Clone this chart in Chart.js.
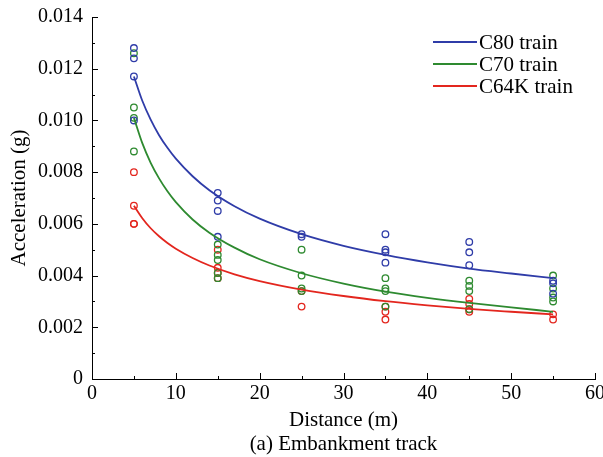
<!DOCTYPE html>
<html>
<head>
<meta charset="utf-8">
<script src="https://cdn.jsdelivr.net/npm/chart.js@4/dist/chart.umd.min.js"></script>
<style>
html,body{margin:0;padding:0;background:#fff;}
#wrap{width:603px;height:457px;}
</style>
</head>
<body>
<div id="wrap"><canvas id="c" width="603" height="457"></canvas></div>
<script>
// ---- data ----
const seriesNames = ['C80 train', 'C70 train', 'C64K train'];
const seriesColors = ['#2f3ca8', '#2e8a30', '#e3261e'];

// measured points (distance, acceleration)
const c80X = [5, 5, 5, 5, 15, 15, 15, 15, 25, 25, 35, 35, 35, 35, 45, 45, 45, 55, 55, 55];
const c80Y = [0.0128, 0.0124, 0.0117, 0.0100, 0.0072, 0.0069, 0.0065, 0.0055, 0.0056, 0.0055, 0.0056, 0.0050, 0.0049, 0.0045, 0.0053, 0.0049, 0.0044, 0.0038, 0.0037, 0.0033];

const c70X = [5, 5, 5, 5, 15, 15, 15, 15, 15, 25, 25, 25, 25, 35, 35, 35, 35, 45, 45, 45, 45, 55, 55, 55, 55];
const c70Y = [0.0126, 0.0105, 0.0101, 0.0088, 0.0052, 0.0048, 0.0046, 0.0041, 0.0039, 0.0050, 0.0040, 0.0035, 0.0034, 0.0039, 0.0035, 0.0034, 0.0028, 0.0038, 0.0036, 0.0034, 0.0027, 0.0040, 0.0035, 0.00315, 0.0030];

const c64X = [5, 5, 5, 5, 15, 15, 15, 15, 25, 25, 35, 35, 35, 45, 45, 45, 45, 55, 55];
const c64Y = [0.0080, 0.0067, 0.0060, 0.0060, 0.0050, 0.0043, 0.0041, 0.0039, 0.0034, 0.0028, 0.0028, 0.0026, 0.0023, 0.0031, 0.0029, 0.0027, 0.0026, 0.0025, 0.0023];

// fitted curves
const fitX = [5, 6, 7, 8, 9, 10, 12, 14, 17, 20, 25, 30, 35, 40, 45, 50, 55];
const c80Fit = [0.0117, 0.01076, 0.01003, 0.00943, 0.00894, 0.00852, 0.00784, 0.0073, 0.00668, 0.0062, 0.0056, 0.00515, 0.0048, 0.00451, 0.00427, 0.00408, 0.0039];
const c70Fit = [0.0101, 0.00912, 0.00836, 0.00776, 0.00726, 0.00684, 0.00617, 0.00566, 0.00508, 0.00463, 0.00409, 0.00369, 0.00338, 0.00314, 0.00294, 0.00277, 0.0026];
const c64Fit = [0.0067, 0.00622, 0.00583, 0.00552, 0.00526, 0.00504, 0.00468, 0.00439, 0.00405, 0.00379, 0.00346, 0.00321, 0.00301, 0.00285, 0.00271, 0.0026, 0.0025];

// axis ticks
const xMin = 0, xMax = 60, xMajor = 10, xMinor = 5;
const yMin = 0, yMax = 0.014, yMajor = 0.002, yMinor = 0.001;
const xTitle = 'Distance (m)';
const caption = '(a) Embankment track';
const yTitle = 'Acceleration (g)';

// ---- build datasets ----
function pts(xs, ys) { return xs.map((x, i) => ({x: x, y: ys[i]})); }
const pointSets = [pts(c80X, c80Y), pts(c70X, c70Y), pts(c64X, c64Y)];
const fitSets = [pts(fitX, c80Fit), pts(fitX, c70Fit), pts(fitX, c64Fit)];

const datasets = [];
for (let i = 0; i < 3; i++) {
  datasets.push({
    label: seriesNames[i],
    data: fitSets[i],
    showLine: true,
    borderColor: seriesColors[i],
    borderWidth: 1.8,
    pointRadius: 0,
    cubicInterpolationMode: 'monotone',
    fill: false,
    isFit: true
  });
}
for (let i = 0; i < 3; i++) {
  datasets.push({
    label: seriesNames[i] + ' data',
    data: pointSets[i],
    showLine: false,
    pointStyle: 'circle',
    pointRadius: 3.3,
    pointBorderWidth: 1.3,
    borderColor: seriesColors[i],
    pointBorderColor: seriesColors[i],
    pointBackgroundColor: 'rgba(0,0,0,0)',
    backgroundColor: 'rgba(0,0,0,0)'
  });
}

const SERIF = "'Times New Roman', 'Liberation Serif', 'DejaVu Serif', serif";

// inside tick marks (major + minor) drawn from the library's scale ticks
const insideTicks = {
  id: 'insideTicks',
  afterDraw(chart) {
    const ctx = chart.ctx;
    const xs = chart.scales.x, ys = chart.scales.y;
    const ca = chart.chartArea;
    ctx.save();
    ctx.strokeStyle = '#000';
    ctx.lineWidth = 1;
    xs.ticks.forEach(t => {
      const major = Math.round(t.value) % xMajor === 0;
      const px = Math.round(xs.getPixelForValue(t.value)) + 0.5;
      const len = major ? 6 : 3;
      ctx.beginPath();
      ctx.moveTo(px, ca.bottom);
      ctx.lineTo(px, ca.bottom - len);
      ctx.stroke();
    });
    ys.ticks.forEach(t => {
      const major = Math.round(t.value / yMinor) % 2 === 0;
      const py = Math.round(ys.getPixelForValue(t.value)) + 0.5;
      const len = major ? 6 : 3;
      ctx.beginPath();
      ctx.moveTo(ca.left, py);
      ctx.lineTo(ca.left + len, py);
      ctx.stroke();
    });
    ctx.restore();
  }
};

// legend drawn inside the plot, lines + names from the datasets
const innerLegend = {
  id: 'innerLegend',
  afterDraw(chart) {
    const ctx = chart.ctx;
    const ca = chart.chartArea;
    ctx.save();
    ctx.font = '21px ' + SERIF;
    ctx.textBaseline = 'middle';
    ctx.fillStyle = '#000';
    const x0 = ca.left + 341, x1 = ca.left + 385, tx = ca.left + 387;
    chart.data.datasets.filter(d => d.isFit).forEach((d, i) => {
      const y = ca.top + 25 + i * 22;
      ctx.strokeStyle = d.borderColor;
      ctx.lineWidth = 1.8;
      ctx.beginPath();
      ctx.moveTo(x0, y);
      ctx.lineTo(x1, y);
      ctx.stroke();
      ctx.fillText(d.label, tx, y + 1);
    });
    ctx.restore();
  }
};

new Chart(document.getElementById('c'), {
  type: 'scatter',
  data: {datasets: datasets},
  options: {
    responsive: false,
    animation: false,
    devicePixelRatio: 1,
    layout: {padding: {left: 0, right: 8, top: 17, bottom: 0}},
    plugins: {legend: {display: false}, tooltip: {enabled: false}},
    scales: {
      x: {
        type: 'linear',
        min: xMin, max: xMax,
        grid: {display: false, drawTicks: false, tickLength: 0},
        border: {display: true, color: '#000', width: 1},
        ticks: {
          stepSize: xMinor,
          autoSkip: false,
          maxRotation: 0,
          padding: 3,
          color: '#000',
          font: {family: SERIF, size: 20},
          callback: v => (Math.round(v) % xMajor === 0 ? String(v) : '')
        },
        title: {
          display: true,
          text: [xTitle, caption],
          color: '#000',
          font: {family: SERIF, size: 21, lineHeight: 1.15},
          padding: {top: 4, bottom: 0}
        },
        afterFit(s) { s.height = 78; s.paddingLeft = 0; s.paddingRight = 0; }
      },
      y: {
        type: 'linear',
        min: yMin, max: yMax,
        grid: {display: false, drawTicks: false, tickLength: 0},
        border: {display: true, color: '#000', width: 1},
        ticks: {
          stepSize: yMinor,
          autoSkip: false,
          padding: 9,
          color: '#000',
          font: {family: SERIF, size: 20},
          callback: v => {
            const k = Math.round(v / yMinor);
            if (k % 2 !== 0) return '';
            return k === 0 ? '0' : (k * yMinor).toFixed(3);
          }
        },
        title: {
          display: true,
          text: yTitle,
          color: '#000',
          font: {family: SERIF, size: 21},
          padding: {top: 7, bottom: 7}
        },
        afterFit(s) { s.width = 92; s.paddingTop = 0; s.paddingBottom = 0; }
      }
    }
  },
  plugins: [insideTicks, innerLegend]
});
</script>
</body>
</html>
